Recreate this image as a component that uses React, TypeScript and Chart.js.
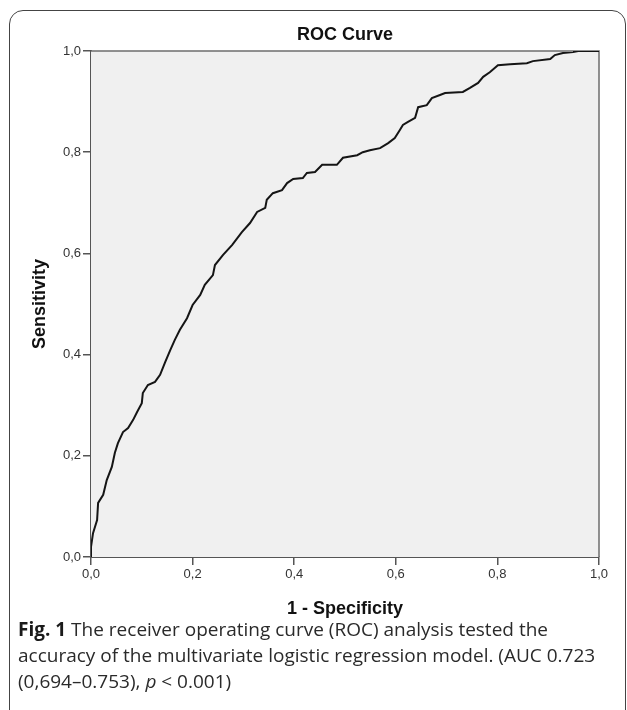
import React, { useEffect, useRef } from "react";
import { Chart, registerables } from "chart.js";

Chart.register(...registerables);

const fpr = [
  0, 0, 0.004, 0.012, 0.014, 0.024, 0.031, 0.041, 0.047, 0.053,
  0.063, 0.073, 0.083, 0.091, 0.1, 0.102, 0.112, 0.126, 0.136, 0.146,
  0.156, 0.165, 0.175, 0.189, 0.2, 0.215, 0.224, 0.24, 0.244, 0.26,
  0.278, 0.297, 0.313, 0.327, 0.343, 0.346, 0.358, 0.376, 0.386, 0.398,
  0.417, 0.425, 0.441, 0.455, 0.484, 0.496, 0.524, 0.535, 0.549, 0.569,
  0.585, 0.598, 0.608, 0.614, 0.624, 0.638, 0.644, 0.661, 0.671, 0.687,
  0.697, 0.732, 0.746, 0.762, 0.772, 0.785, 0.801, 0.825, 0.858, 0.87,
  0.904, 0.913, 0.929, 0.949, 0.959, 1.0,
];
const tpr = [
  0, 0.02, 0.047, 0.073, 0.107, 0.123, 0.152, 0.178, 0.206, 0.225,
  0.247, 0.255, 0.271, 0.287, 0.304, 0.324, 0.34, 0.346, 0.36, 0.385,
  0.409, 0.429, 0.449, 0.472, 0.498, 0.518, 0.538, 0.557, 0.577, 0.597,
  0.617, 0.642, 0.66, 0.682, 0.69, 0.706, 0.719, 0.725, 0.739, 0.747,
  0.749, 0.759, 0.761, 0.775, 0.775, 0.789, 0.794, 0.8, 0.804, 0.808,
  0.818, 0.828, 0.844, 0.854, 0.86, 0.868, 0.889, 0.893, 0.907, 0.913,
  0.917, 0.919, 0.927, 0.937, 0.949, 0.958, 0.972, 0.974, 0.976, 0.98,
  0.984, 0.992, 0.996, 0.998, 1.0, 1.0,
];

const axisTicks = [0, 0.2, 0.4, 0.6, 0.8, 1.0];
const chartTitle = "ROC Curve";
const xTitle = "1 - Specificity";
const yTitle = "Sensitivity";

const fmt = (v: number) => v.toFixed(1).replace(".", ",");

const framePlugin = {
  id: "frame",
  beforeDatasetsDraw(chart: any) {
    const { ctx, chartArea: a } = chart;
    ctx.save();
    ctx.fillStyle = "#f0f0f0";
    ctx.fillRect(a.left, a.top, a.right - a.left, a.bottom - a.top);
    ctx.strokeStyle = "#6e6e6e";
    ctx.lineWidth = 1.5;
    ctx.beginPath();
    ctx.moveTo(a.left, a.top);
    ctx.lineTo(a.right, a.top);
    ctx.lineTo(a.right, a.bottom);
    ctx.stroke();
    ctx.restore();
  },
};

export default function App() {
  const ref = useRef<HTMLCanvasElement | null>(null);
  useEffect(() => {
    if (!ref.current) return;
    const chart = new Chart(ref.current, {
      type: "line",
      data: {
        datasets: [
          {
            data: fpr.map((x, i) => ({ x, y: tpr[i] })),
            borderColor: "#151515",
            borderWidth: 2,
            pointRadius: 0,
            tension: 0,
            fill: false,
          },
        ],
      },
      options: {
        animation: false,
        responsive: false,
        devicePixelRatio: 1,
        layout: { padding: { left: 0, right: 0, top: 0, bottom: 0 } },
        plugins: {
          legend: { display: false },
          tooltip: { enabled: false },
          title: {
            display: true,
            fullSize: false,
            text: chartTitle,
            color: "#111",
            font: { family: "Liberation Sans, Arial", size: 18, weight: "bold", lineHeight: 1.2 },
            padding: { top: 24, bottom: 5.4 },
          },
        },
        scales: {
          x: {
            type: "linear",
            min: 0,
            max: 1,
            afterBuildTicks: (s: any) => {
              s.ticks = axisTicks.map((v) => ({ value: v }));
            },
            afterFit: (s: any) => {
              s.height = 68;
            },
            ticks: {
              callback: (v: any) => fmt(Number(v)),
              color: "#333",
              font: { family: "Liberation Sans, Arial", size: 13 },
              padding: 2,
              maxRotation: 0,
            },
            grid: { drawOnChartArea: false, drawTicks: true, tickLength: 8, color: "#555", lineWidth: 1.5 },
            border: { display: true, color: "#555", width: 2 },
            title: {
              display: true,
              text: xTitle,
              color: "#111",
              font: { family: "Liberation Sans, Arial", size: 18, weight: "bold", lineHeight: 1.2 },
              padding: { top: 0, bottom: 5 },
            },
          },
          y: {
            type: "linear",
            min: 0,
            max: 1,
            afterBuildTicks: (s: any) => {
              s.ticks = axisTicks.map((v) => ({ value: v }));
            },
            afterFit: (s: any) => {
              s.width = 91;
            },
            ticks: {
              callback: (v: any) => fmt(Number(v)),
              color: "#333",
              font: { family: "Liberation Sans, Arial", size: 13 },
              padding: 2,
            },
            grid: { drawOnChartArea: false, drawTicks: true, tickLength: 8, color: "#555", lineWidth: 1.5 },
            border: { display: true, color: "#555", width: 2 },
            title: {
              display: true,
              text: yTitle,
              color: "#111",
              font: { family: "Liberation Sans, Arial", size: 18, weight: "bold", lineHeight: 1.2 },
              padding: { top: 29, bottom: 0 },
            },
          },
          yRight: {
            type: "linear",
            position: "right",
            display: true,
            afterFit: (s: any) => {
              s.width = 28;
            },
            ticks: { display: false },
            grid: { display: false, drawTicks: false },
            border: { display: false },
          },
        },
      } as any,
      plugins: [framePlugin],
    });
    return () => chart.destroy();
  }, []);

  return (
    <div
      style={{
        position: "fixed",
        left: 0,
        top: 0,
        width: 627,
        height: 710,
        background: "#fff",
        overflow: "hidden",
      }}
    >
      <div
        style={{
          position: "absolute",
          left: 9,
          top: 10,
          width: 617,
          height: 740,
          border: "1.5px solid #444",
          borderRadius: 14,
          boxSizing: "border-box",
        }}
      />
      <canvas
        ref={ref}
        width={627}
        height={625}
        style={{ position: "absolute", left: 0, top: 0, width: 627, height: 625 }}
      />
      <div
        style={{
          position: "absolute",
          left: 18,
          top: 616,
          width: 605,
          fontFamily: "'Open Sans', sans-serif",
          fontSize: 19,
          lineHeight: "26px",
          color: "#2a2a2a",
          whiteSpace: "nowrap",
        }}
      >
        <div>
          <b style={{ color: "#1a1a1a" }}>Fig. 1</b> The receiver operating curve (ROC) analysis tested the
        </div>
        <div>accuracy of the multivariate logistic regression model. (AUC 0.723</div>
        <div>
          (0,694–0.753), <i>p</i> &lt; 0.001)
        </div>
      </div>
    </div>
  );
}
